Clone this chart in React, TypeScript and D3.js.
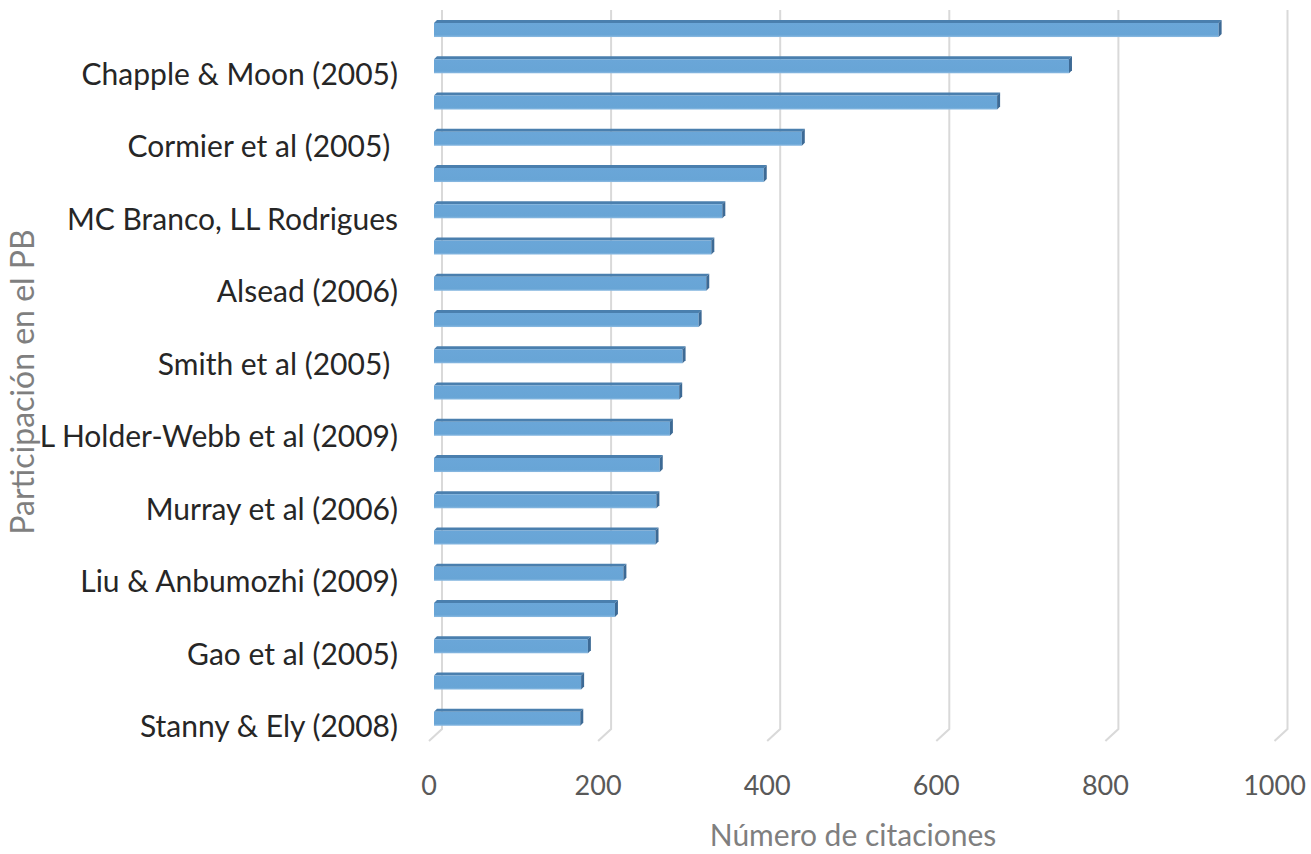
import React from "react";
import * as d3 from "d3";

const categories: string[] = [
  "", "Chapple & Moon (2005)", "", "Cormier et al (2005) ", "",
  "MC Branco, LL Rodrigues", "", "Alsead (2006)", "", "Smith et al (2005) ",
  "", "L Holder-Webb et al (2009)", "", "Murray et al (2006)", "",
  "Liu & Anbumozhi (2009)", "", "Gao et al (2005)", "", "Stanny & Ely (2008)",
];
const citations: number[] = [
  928, 751, 666, 435, 390, 341, 328, 322, 313, 294,
  290, 279, 267, 263, 262, 224, 214, 182, 174, 173,
];
const xTicks: number[] = [0, 200, 400, 600, 800, 1000];
const xTitle = "Número de citaciones";
const yTitle = "Participación en el PB";

const W = 1311;
const H = 854;
const FONT = "Lato, 'Open Sans', sans-serif";

export default function App() {
  // back wall scale
  const xBack = d3.scaleLinear().domain([0, 1000]).range([442, 1287.5]);
  // front plane scale (tick labels, floor edge)
  const xFront = d3.scaleLinear().domain([0, 1000]).range([429, 1274.5]);
  // bars sit at middle depth
  const xBar = d3.scaleLinear().domain([0, 1000]).range([434, 1279.5]);
  const y = d3
    .scaleBand<number>()
    .domain(d3.range(categories.length))
    .range([10.4, 735.4])
    .paddingInner(0.53)
    .paddingOuter(0.265);

  const gridTop = 10;
  const gridBottom = 729;
  const floorBottom = 741;
  const topFace = 3;
  const depth = 3;

  return (
    <svg
      width={W}
      height={H}
      style={{ position: "absolute", left: 0, top: 0, background: "#fff" }}
    >
      <defs>
        <linearGradient id="frontGrad" x1="0" y1="0" x2="0" y2="1">
          <stop offset="0" stopColor="#6aa6d8" />
          <stop offset="0.85" stopColor="#68a5d6" />
          <stop offset="1" stopColor="#8dbbe2" />
        </linearGradient>
      </defs>
      {/* gridlines */}
      <g>
        {xTicks.map((t) => (
          <path
            key={t}
            d={`M${xBack(t)},${gridTop} L${xBack(t)},${gridBottom} L${xFront(t)},${floorBottom}`}
            fill="none"
            stroke="#d9d9d9"
            strokeWidth={2}
          />
        ))}
      </g>
      {/* bars */}
      <g>
        {citations.map((v, i) => {
          const y0 = y(i)!;
          const bh = y.bandwidth();
          const x0 = xBar(0);
          const x1 = xBar(v);
          return (
            <g key={i}>
              <path
                d={`M${x0},${y0 + topFace} L${x0 + depth},${y0} L${x1 + depth},${y0} L${x1},${y0 + topFace} Z`}
                fill="#4a7fae"
              />
              <rect
                x={x0}
                y={y0 + topFace}
                width={x1 - x0}
                height={bh - topFace}
                fill="url(#frontGrad)"
              />
              <path
                d={`M${x1},${y0 + topFace} L${x1 + depth},${y0} L${x1 + depth},${y0 + bh - topFace} L${x1},${y0 + bh} Z`}
                fill="#3d6a95"
              />
            </g>
          );
        })}
      </g>
      {/* category labels */}
      <g>
        {categories.map((c, i) =>
          c ? (
            <text
              key={i}
              x={398}
              y={y(i)! + y.bandwidth() / 2 + 20}
              textAnchor="end"
              fontFamily={FONT}
              fontSize={30}
              fill="#262626"
              style={{ whiteSpace: "pre" }}
            >
              {c}
            </text>
          ) : null
        )}
      </g>
      {/* x tick labels */}
      <g>
        {xTicks.map((t) => (
          <text
            key={t}
            x={xFront(t)}
            y={795}
            textAnchor="middle"
            fontFamily={FONT}
            fontSize={27}
            fill="#595959"
          >
            {d3.format("d")(t)}
          </text>
        ))}
      </g>
      {/* axis titles */}
      <text
        x={853}
        y={846}
        textAnchor="middle"
        fontFamily={FONT}
        fontSize={30}
        fill="#7f7f7f"
      >
        {xTitle}
      </text>
      <text
        transform={`translate(34,382) rotate(-90)`}
        textAnchor="middle"
        fontFamily={FONT}
        fontSize={32}
        fill="#7f7f7f"
      >
        {yTitle}
      </text>
    </svg>
  );
}
